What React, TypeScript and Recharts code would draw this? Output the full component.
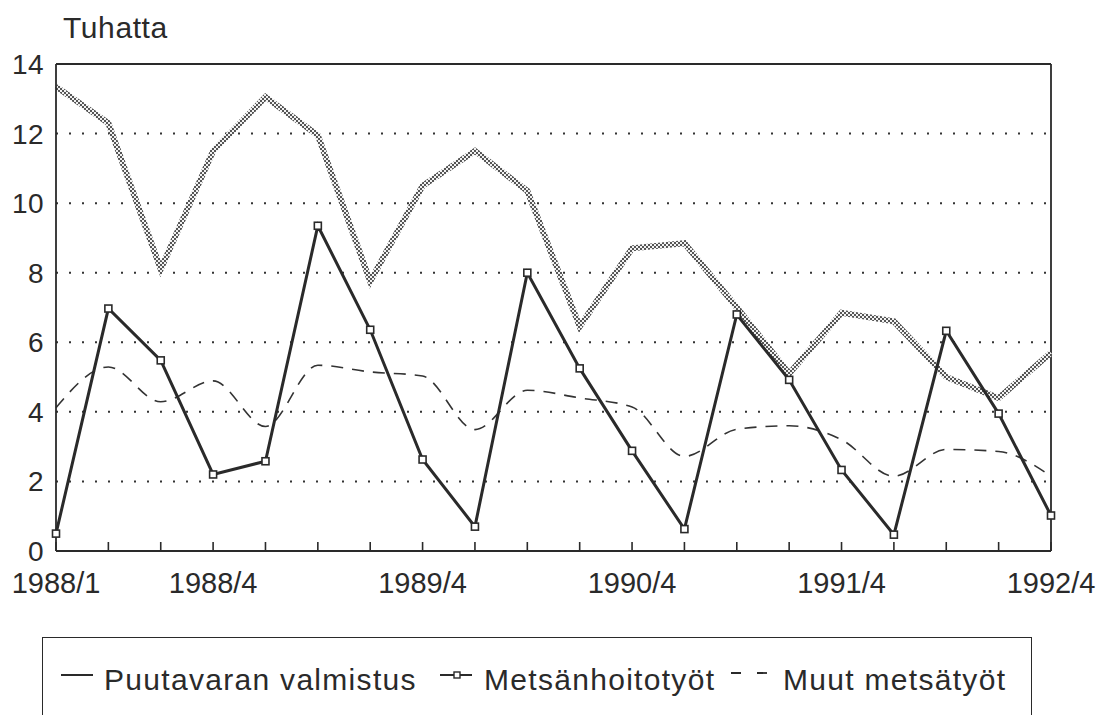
import React from 'react';
import { LineChart, Line, XAxis, YAxis, CartesianGrid, ReferenceLine, Legend } from 'recharts';

const quarters = [
  '1988/1', '1988/2', '1988/3', '1988/4',
  '1989/1', '1989/2', '1989/3', '1989/4',
  '1990/1', '1990/2', '1990/3', '1990/4',
  '1991/1', '1991/2', '1991/3', '1991/4',
  '1992/1', '1992/2', '1992/3', '1992/4',
];
const shownLabels = ['1988/1', '1988/4', '1989/4', '1990/4', '1991/4', '1992/4'];
const yTicks = [0, 2, 4, 6, 8, 10, 12, 14];

const puutavara = [13.35, 12.3, 8.1, 11.5, 13.05, 11.95, 7.75, 10.5, 11.5, 10.35, 6.45, 8.7, 8.85, 7.0, 5.1, 6.85, 6.6, 5.0, 4.4, 5.7];
const metsanhoito = [0.5, 6.97, 5.48, 2.2, 2.58, 9.35, 6.36, 2.63, 0.7, 8.0, 5.25, 2.88, 0.63, 6.8, 4.92, 2.33, 0.47, 6.33, 3.95, 1.02];
const muut = [4.12, 5.29, 4.29, 4.89, 3.58, 5.34, 5.15, 5.03, 3.49, 4.62, 4.4, 4.14, 2.72, 3.5, 3.6, 3.2, 2.15, 2.92, 2.86, 2.15];

const seriesNames = ['Puutavaran valmistus', 'Metsänhoitotyöt', 'Muut metsätyöt'];

const data = quarters.map((q, i) => ({
  q,
  puutavara: puutavara[i],
  metsanhoito: metsanhoito[i],
  muut: muut[i],
}));

const FONT = '"Liberation Sans", Arial, Helvetica, sans-serif';
const INK = '#2a2a2a';

const XTick = (props: any) => {
  const { x, y, payload } = props;
  const show = shownLabels.includes(payload.value);
  return (
    <g>
      <line x1={x} x2={x} y1={y} y2={y - 9} stroke={INK} strokeWidth={1.6} />
      {show && (
        <text x={x} y={y + 42} textAnchor="middle" fontSize={29} fill={INK} fontFamily={FONT}>
          {payload.value}
        </text>
      )}
    </g>
  );
};

const SquareDot = (props: any) => {
  const { cx, cy, index } = props;
  if (cx == null || cy == null) return null;
  return <rect key={`d${index}`} x={cx - 3.5} y={cy - 3.5} width={7} height={7} fill="#fff" stroke={INK} strokeWidth={1.6} />;
};

const LegendBox = () => (
  <div style={{ width: 990, height: 120, border: `1.6px solid ${INK}`, boxSizing: 'border-box', background: '#fff' }}>
    <svg width={988} height={110} style={{ display: 'block' }}>
      <line x1={18} x2={50} y1={37} y2={37} stroke={INK} strokeWidth={2} />
      <text x={61} y={52} fontSize={30} letterSpacing={1.3} fill={INK} fontFamily={FONT}>{seriesNames[0]}</text>
      <line x1={397} x2={429} y1={37} y2={37} stroke={INK} strokeWidth={2} />
      <rect x={411} y={34} width={6} height={6} fill="#fff" stroke={INK} strokeWidth={1.4} />
      <text x={441} y={52} fontSize={30} letterSpacing={1.3} fill={INK} fontFamily={FONT}>{seriesNames[1]}</text>
      <line x1={688} x2={725} y1={35} y2={35} stroke={INK} strokeWidth={1.8} strokeDasharray="10 16" />
      <text x={740} y={52} fontSize={30} letterSpacing={1.3} fill={INK} fontFamily={FONT}>{seriesNames[2]}</text>
    </svg>
  </div>
);

export default function App() {
  return (
    <div style={{ position: 'absolute', left: 0, top: 0, width: 1102, height: 715, overflow: 'hidden', background: '#fff' }}>
      <LineChart width={1102} height={715} data={data} margin={{ top: 64, right: 51, bottom: 104, left: 0 }}>
        <defs>
          <pattern id="checker" width={4} height={4} patternUnits="userSpaceOnUse">
            <rect width={4} height={4} fill="#f2f2f2" />
            <rect x={0} y={0} width={2} height={2} fill="#555" />
            <rect x={2} y={2} width={2} height={2} fill="#555" />
          </pattern>
        </defs>
        <CartesianGrid vertical={false} stroke="#333" strokeWidth={2} strokeDasharray="2 11" />
        <XAxis
          dataKey="q"
          interval={0}
          height={60}
          tickSize={0}
          tickMargin={0}
          tickLine={false}
          axisLine={{ stroke: INK, strokeWidth: 1.8 }}
          tick={<XTick />}
        />
        <YAxis
          width={56}
          domain={[0, 14]}
          ticks={yTicks}
          tickSize={0}
          tickMargin={12}
          tickLine={false}
          axisLine={{ stroke: INK, strokeWidth: 1.8 }}
          tick={{ fontSize: 28, fill: INK, fontFamily: FONT, letterSpacing: 0.4 }}
          label={{
            content: () => (
              <text x={63} y={38} fontSize={30} letterSpacing={0.6} fill={INK} fontFamily={FONT}>Tuhatta</text>
            ),
          }}
        />
        <ReferenceLine y={14} stroke={INK} strokeWidth={1.8} />
        <ReferenceLine x={quarters[quarters.length - 1]} stroke={INK} strokeWidth={1.8} />
        <Legend
          content={<LegendBox />}
          wrapperStyle={{ left: 42, top: 637, width: 990, height: 0 }}
        />
        <Line
          type="linear"
          dataKey="puutavara"
          name={seriesNames[0]}
          stroke="url(#checker)"
          strokeWidth={6}
          dot={false}
          activeDot={false}
          isAnimationActive={false}
        />
        <Line
          type="monotone"
          dataKey="muut"
          name={seriesNames[2]}
          stroke="#333"
          strokeWidth={1.6}
          strokeDasharray="12 9"
          dot={false}
          activeDot={false}
          isAnimationActive={false}
        />
        <Line
          type="linear"
          dataKey="metsanhoito"
          name={seriesNames[1]}
          stroke={INK}
          strokeWidth={3}
          dot={<SquareDot />}
          activeDot={false}
          isAnimationActive={false}
        />
      </LineChart>
    </div>
  );
}
